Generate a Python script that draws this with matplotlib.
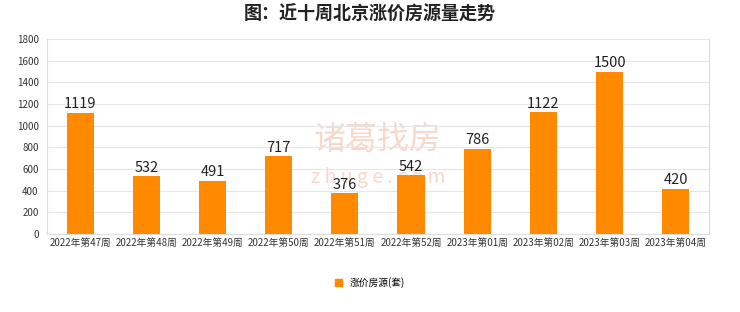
import matplotlib.pyplot as plt
from matplotlib.patches import Patch

plt.rcParams['font.family'] = ['Noto Sans CJK SC', 'DejaVu Sans']

weeks = ['2022年第47周', '2022年第48周', '2022年第49周', '2022年第50周', '2022年第51周',
         '2022年第52周', '2023年第01周', '2023年第02周', '2023年第03周', '2023年第04周']
counts = [1119, 532, 491, 717, 376, 542, 786, 1122, 1500, 420]

fig = plt.figure(figsize=(7.4, 3.12), dpi=100)
ax = fig.add_axes([0.0635, 0.25, 0.8945, 0.625])

x = range(len(weeks))
ax.bar(x, counts, width=0.41, color='#ff8a00', zorder=3)
for i, v in enumerate(counts):
    ax.text(i, v + 15, str(v), ha='center', va='bottom', fontsize=10.5, color='#222222', zorder=4)

ax.set_xlim(-0.5, len(weeks) - 0.5)
ax.set_ylim(0, 1800)
ax.set_yticks(range(0, 1801, 200))
ax.set_xticks(list(x))
ax.set_xticklabels(weeks, fontsize=7, color='#333333')
ax.tick_params(axis='y', labelsize=7, colors='#333333', length=0, pad=6)
ax.tick_params(axis='x', length=0, pad=3)
ax.grid(axis='y', color='#e6e6e6', linewidth=0.8, zorder=0)
ax.spines['top'].set_visible(False)
for s in ['left', 'bottom', 'right']:
    ax.spines[s].set_color('#dddddd')
    ax.spines[s].set_linewidth(0.8)

# watermark, behind the bars
ax.text(0.5, 0.48, '诸葛找房', transform=ax.transAxes, ha='center', va='center',
        fontsize=23, color='#f7d9cc', zorder=1)
ax.text(0.5, 0.29, 'z h u g e . c o m', transform=ax.transAxes, ha='center', va='center',
        fontsize=14, color='#f7d9cc', zorder=1)

fig.suptitle('图：近十周北京涨价房源量走势', x=0.5, y=0.985, fontsize=13, fontweight='bold', color='#222222')

fig.legend(handles=[Patch(color='#ff8a00', label='涨价房源(套)')], loc='center', bbox_to_anchor=(0.5, 0.095),
           frameon=False, fontsize=7, handlelength=0.7, handleheight=0.7, handletextpad=0.8)

fig.savefig('out.png', dpi=100, facecolor='white')
